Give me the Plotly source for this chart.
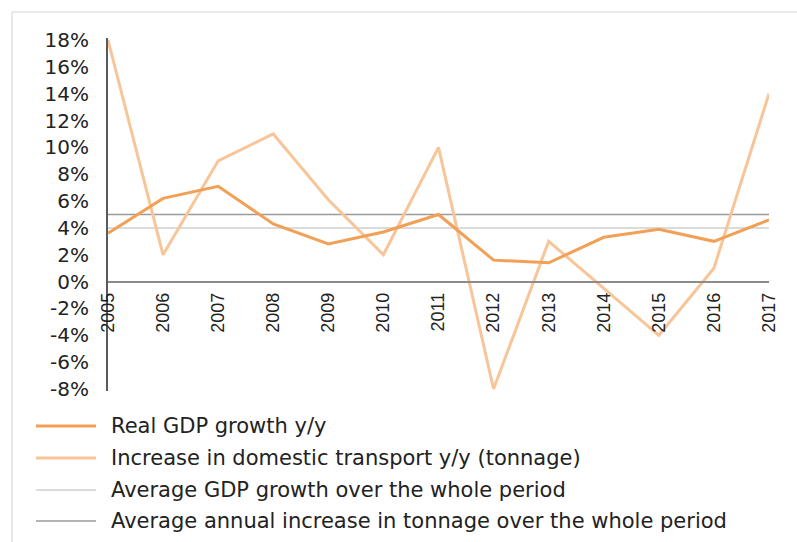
import plotly.graph_objects as go

# ---- data -------------------------------------------------------------
years = [2005, 2006, 2007, 2008, 2009, 2010, 2011, 2012, 2013, 2014, 2015, 2016, 2017]
gdp_growth = [3.6, 6.2, 7.1, 4.3, 2.8, 3.7, 5.0, 1.6, 1.4, 3.3, 3.9, 3.0, 4.6]
tonnage_growth = [18.0, 2.0, 9.0, 11.0, 6.1, 2.0, 10.0, -8.0, 3.0, -0.5, -4.0, 1.0, 14.0]
avg_gdp_growth = 4.0
avg_tonnage_growth = 5.0

y_ticks = [18, 16, 14, 12, 10, 8, 6, 4, 2, 0, -2, -4, -6, -8]
y_tick_labels = [f"{v}%" for v in y_ticks]

legend_labels = [
    "Real GDP growth y/y",
    "Increase in domestic transport y/y (tonnage)",
    "Average GDP growth over the whole period",
    "Average annual increase in tonnage over the whole period",
]

# ---- styling ----------------------------------------------------------
W, H = 797, 542
ML, MR, MT, MB = 108, 28, 38, 151
Y_RANGE = [-8.15, 18.15]

c_gdp = "#F1A056"
c_ton = "#F8C599"
c_avg_gdp = "#CFCFCF"
c_avg_ton = "#9A9A9A"

series_styles = [
    dict(color=c_gdp, width=3),
    dict(color=c_ton, width=3),
    dict(color=c_avg_gdp, width=1.5),
    dict(color=c_avg_ton, width=1.5),
]

plot_w = W - ML - MR
plot_h = H - MT - MB


def px_x(px):
    return (px - ML) / plot_w


def px_y(py):
    return (H - MB - py) / plot_h


fig = go.Figure()

fig.add_trace(go.Scatter(x=years, y=[avg_gdp_growth] * len(years), mode="lines",
                         line=series_styles[2], name=legend_labels[2], hoverinfo="skip"))
fig.add_trace(go.Scatter(x=years, y=[avg_tonnage_growth] * len(years), mode="lines",
                         line=series_styles[3], name=legend_labels[3], hoverinfo="skip"))
fig.add_trace(go.Scatter(x=years, y=tonnage_growth, mode="lines",
                         line=series_styles[1], name=legend_labels[1]))
fig.add_trace(go.Scatter(x=years, y=gdp_growth, mode="lines",
                         line=series_styles[0], name=legend_labels[0]))

# legend drawn below the plot: long line samples with labels
legend_rows = [426, 458, 490, 521]
shapes = []
annotations = []
for label, style, row in zip(legend_labels, series_styles, legend_rows):
    shapes.append(dict(type="line", xref="paper", yref="paper",
                       x0=px_x(36), x1=px_x(96), y0=px_y(row), y1=px_y(row),
                       line=dict(color=style["color"], width=style["width"])))
    annotations.append(dict(xref="paper", yref="paper", x=px_x(109), y=px_y(row),
                            xanchor="left", yanchor="middle", showarrow=False,
                            text=label,
                            font=dict(family="DejaVu Sans", size=21, color="#222222")))

# light frame along the left and top edges
shapes.append(dict(type="line", xref="paper", yref="paper",
                   x0=px_x(12), x1=px_x(12), y0=px_y(12), y1=px_y(H),
                   line=dict(color="#E2E2E2", width=1.5)))
shapes.append(dict(type="line", xref="paper", yref="paper",
                   x0=px_x(12), x1=px_x(W), y0=px_y(12), y1=px_y(12),
                   line=dict(color="#E2E2E2", width=1.5)))

zero_pos = (0 - Y_RANGE[0]) / (Y_RANGE[1] - Y_RANGE[0])

fig.update_layout(
    width=W, height=H,
    margin=dict(l=ML, r=MR, t=MT, b=MB),
    paper_bgcolor="white", plot_bgcolor="white",
    showlegend=False,
    shapes=shapes,
    annotations=annotations,
    xaxis=dict(
        range=[2005, 2017],
        tickmode="array", tickvals=years, ticktext=[str(y) for y in years],
        tickangle=-90,
        tickfont=dict(family="Liberation Sans", size=18, color="#222222"),
        showgrid=False, zeroline=False,
        showline=True, linecolor="#8C8C8C", linewidth=2,
        ticks="", ticklabelstandoff=3,
        anchor="free", position=zero_pos,
    ),
    yaxis=dict(
        range=Y_RANGE,
        tickmode="array", tickvals=y_ticks, ticktext=y_tick_labels,
        tickfont=dict(family="DejaVu Sans", size=20, color="#222222"),
        showgrid=False, zeroline=False,
        showline=True, linecolor="#5A5A5A", linewidth=2,
        ticks="", ticklabelstandoff=13,
    ),
)

fig.write_html("out.html")
